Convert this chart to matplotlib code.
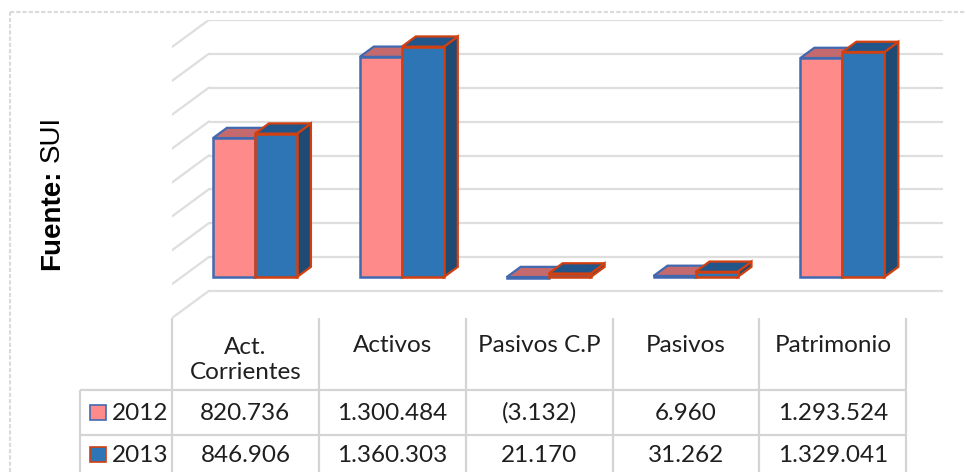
import matplotlib
matplotlib.use("Agg")
import matplotlib.pyplot as plt
from matplotlib.patches import Polygon, Rectangle

categories = ["Act.\nCorrientes", "Activos", "Pasivos C.P", "Pasivos", "Patrimonio"]
years = ["2012", "2013"]
values_2012 = [820736, 1300484, -3132, 6960, 1293524]
values_2013 = [846906, 1360303, 21170, 31262, 1329041]

# value axis (labels hidden in the original)
YMIN, YMAX, YSTEP = -200000, 1400000, 200000

front = ["#FF8A8A", "#2E75B6"]
top = ["#C46A6E", "#22568A"]
side = ["#B05A5E", "#1F4A74"]
edge = ["#4169B0", "#D2400F"]
grid_color = "#dedede"
text_color = "#1f1f1f"

# oblique "3d" settings
OX = 0.25                          # full depth, in category units
OY = (YMAX - YMIN) * 27 / 271      # full depth, in value units
D0, D1 = 0.26, 0.64                # bar front/back depth
W = 0.286                          # bar width


def fmt(v):
    s = f"{abs(v):,}".replace(",", ".")
    return f"({s})" if v < 0 else s


fig = plt.figure(figsize=(9.66, 4.72), dpi=100)

# overlay in image pixels for the table, border and source note
ax_t = fig.add_axes([0, 0, 1, 1])
ax_t.set_xlim(0, 966)
ax_t.set_ylim(472, 0)
ax_t.set_axis_off()

ax = fig.add_axes([172 / 966, (472 - 318) / 472, (943 - 172) / 966, (318 - 20) / 472])
ax.set_xlim(-0.5, len(categories) - 0.5 + OX)
ax.set_ylim(YMIN, YMAX + OY)
ax.set_axis_off()

# walls gridlines
for v in range(YMIN, YMAX + 1, YSTEP):
    ax.plot([-0.5 + OX, len(categories) - 0.5 + OX], [v + OY, v + OY],
            color=grid_color, lw=1.6, zorder=1, solid_capstyle="butt")
    ax.plot([-0.5, -0.5 + OX], [v, v + OY], color=grid_color, lw=1.6, zorder=1)

# bars
for i, pair in enumerate(zip(values_2012, values_2013)):
    for s, v in enumerate(pair):
        x0 = i - W + s * W
        lo, hi = min(0, v), max(0, v)
        xr0, xr1 = x0 + W + D0 * OX, x0 + W + D1 * OX
        ax.add_patch(Polygon([(xr0, lo + D0 * OY), (xr1, lo + D1 * OY),
                              (xr1, hi + D1 * OY), (xr0, hi + D0 * OY)],
                             closed=True, facecolor=side[s], edgecolor=edge[s],
                             lw=1.6, zorder=3 + s * 3))
        ax.add_patch(Polygon([(x0 + D0 * OX, hi + D0 * OY), (xr0, hi + D0 * OY),
                              (xr1, hi + D1 * OY), (x0 + D1 * OX, hi + D1 * OY)],
                             closed=True, facecolor=top[s], edgecolor=edge[s],
                             lw=1.6, zorder=4 + s * 3))
        ax.bar(x0 + D0 * OX, hi - lo, bottom=lo + D0 * OY, width=W, align="edge",
               color=front[s], edgecolor=edge[s], lw=1.8, zorder=5 + s * 3)

# data table under the chart
fig.canvas.draw()
cols = [ax.transData.transform((i - 0.5, YMIN))[0] for i in range(len(categories) + 1)]
table_top = 472 - ax.transData.transform((0, YMIN))[1]
row_lines = [390, 435]
legend_left = 80
line_kw = dict(color="#d4d4d4", lw=1.6, solid_capstyle="butt")

for x in cols:
    ax_t.plot([x, x], [table_top, 472], **line_kw)
ax_t.plot([legend_left, legend_left], [row_lines[0], 472], **line_kw)
for y in row_lines:
    ax_t.plot([legend_left, cols[-1]], [y, y], **line_kw)

font = dict(family="Lato", fontsize=17.5, color=text_color)
for i, cat in enumerate(categories):
    xc = (cols[i] + cols[i + 1]) / 2
    n = cat.count("\n")
    ax_t.text(xc, 345 + 15 * n, cat, ha="center", va="center", linespacing=1.2, **font)

row_y = [413, 455]
for r, vals in enumerate([values_2012, values_2013]):
    for i, v in enumerate(vals):
        xc = (cols[i] + cols[i + 1]) / 2
        ax_t.text(xc, row_y[r], fmt(v), ha="center", va="center", **font)
    ax_t.add_patch(Rectangle((90, row_y[r] - 8), 16, 15, facecolor=front[r],
                             edgecolor=edge[r], lw=1.2))
    ax_t.text(112, row_y[r], years[r], ha="left", va="center", **font)

# chart border
ax_t.plot([10, 10], [472, 12], color="#dadada", lw=1.5, linestyle=(0, (2, 1)))
ax_t.plot([10, 966], [12, 12], color="#dadada", lw=1.5, linestyle=(0, (2, 1)))

# source note
t1 = ax_t.text(52, 270, "Fuente:", rotation=90, ha="center", va="bottom",
               family="Liberation Sans", fontweight="bold", fontsize=20, color="black")
bb = t1.get_window_extent(renderer=fig.canvas.get_renderer())
ax_t.text(52, 472 - bb.y1 - 8, "SUI", rotation=90, ha="center", va="bottom",
          family="Liberation Sans", fontsize=20, color="black")

fig.savefig("out.png", dpi=100)
